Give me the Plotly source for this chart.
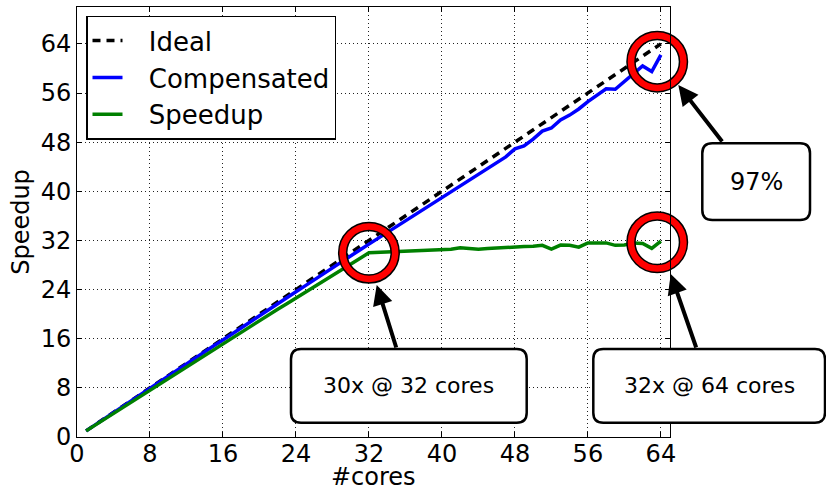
import plotly.graph_objects as go

cores = list(range(1, 65))
ideal = [1, 2, 3, 4, 5, 6, 7, 8, 9, 10, 11, 12, 13, 14, 15, 16,
         17, 18, 19, 20, 21, 22, 23, 24, 25, 26, 27, 28, 29, 30, 31, 32,
         33, 34, 35, 36, 37, 38, 39, 40, 41, 42, 43, 44, 45, 46, 47, 48,
         49, 50, 51, 52, 53, 54, 55, 56, 57, 58, 59, 60, 61, 62, 63, 64]
compensated = [1.0, 2.0, 3.0, 4.0, 5.0, 5.95, 6.95, 7.95, 8.95, 9.9,
               10.9, 11.9, 12.85, 13.85, 14.85, 15.8, 16.8, 17.8, 18.75, 19.75,
               20.7, 21.7, 22.7, 23.65, 24.6, 25.6, 26.55, 27.55, 28.5, 29.45,
               30.45, 31.4, 32.35, 33.3, 34.25, 35.2, 36.15, 37.1, 38.05, 39.0,
               39.9, 40.85, 41.8, 42.7, 43.65, 44.6, 45.6, 46.9, 47.4, 48.5,
               49.8, 50.3, 51.6, 52.4, 53.4, 54.6, 55.6, 56.7, 56.6, 57.9,
               59.2, 60.4, 59.5, 62.2]
speedup = [1.0, 1.95, 2.9, 3.85, 4.8, 5.75, 6.7, 7.65, 8.6, 9.55,
           10.5, 11.4, 12.35, 13.3, 14.25, 15.2, 16.1, 17.05, 18.0, 18.9,
           19.85, 20.8, 21.7, 22.6, 23.55, 24.45, 25.4, 26.3, 27.2, 28.15,
           29.05, 30.0, 30.05, 30.1, 30.15, 30.2, 30.25, 30.3, 30.35, 30.4,
           30.55, 30.8, 30.7, 30.55, 30.7, 30.8, 30.85, 30.95, 31.0, 31.05,
           31.2, 30.6, 31.25, 31.2, 30.9, 31.6, 31.6, 31.6, 31.2, 31.25,
           31.6, 31.5, 30.7, 31.9]

highlight_x = [32, 63.6, 63.6]
highlight_y = [30, 31.7, 61.1]

tick_vals = [0, 8, 16, 24, 32, 40, 48, 56, 64]

W, H = 826, 491
ML, MR, MT, MB = 77, 156, 7, 54
PW, PH = W - ML - MR, H - MT - MB


def px(xp):
    return (xp - ML) / PW


def py(yp):
    return (H - MB - yp) / PH


def rounded_box(x0, y0, x1, y1, r=10):
    X0, X1 = px(x0), px(x1)
    Y0, Y1 = py(y0), py(y1)  # Y0 top, Y1 bottom
    rx, ry = r / PW, r / PH
    return (f"M{X0+rx},{Y0} L{X1-rx},{Y0} Q{X1},{Y0} {X1},{Y0-ry} "
            f"L{X1},{Y1+ry} Q{X1},{Y1} {X1-rx},{Y1} "
            f"L{X0+rx},{Y1} Q{X0},{Y1} {X0},{Y1+ry} "
            f"L{X0},{Y0-ry} Q{X0},{Y0} {X0+rx},{Y0} Z")


pad = "\u2002\u00a0"
fig = go.Figure()
fig.add_trace(go.Scatter(x=cores, y=ideal, mode="lines", name=pad + "Ideal",
                         line=dict(color="black", width=3.5, dash="8px,6px")))
fig.add_trace(go.Scatter(x=cores, y=compensated, mode="lines", name=pad + "Compensated",
                         line=dict(color="#0000ff", width=3.5)))
fig.add_trace(go.Scatter(x=cores, y=speedup, mode="lines", name=pad + "Speedup",
                         line=dict(color="#008000", width=3.5)))
fig.add_trace(go.Scatter(x=highlight_x, y=highlight_y, mode="markers", showlegend=False,
                         cliponaxis=False, hoverinfo="skip",
                         marker=dict(symbol="circle-open", size=52.5, color="black",
                                     line=dict(width=9.5, color="black"))))
fig.add_trace(go.Scatter(x=highlight_x, y=highlight_y, mode="markers", showlegend=False,
                         cliponaxis=False, hoverinfo="skip",
                         marker=dict(symbol="circle-open", size=52.5, color="#ff0000",
                                     line=dict(width=6.5, color="#ff0000"))))

boxes = [
    (291, 349, 526.7, 422.7, "30x @ 32 cores", 22),
    (593.3, 349, 825, 422.7, "32x @ 64 cores", 22),
    (702.3, 143.3, 810, 220, "97%", 24),
]
shapes = []
annotations = []
for (x0, y0, x1, y1, txt, fs) in boxes:
    shapes.append(dict(type="path", xref="paper", yref="paper", path=rounded_box(x0, y0, x1, y1),
                       line=dict(color="black", width=2.5), fillcolor="white", layer="above"))
    annotations.append(dict(xref="paper", yref="paper", x=px((x0 + x1) / 2), y=py((y0 + y1) / 2),
                            text=txt, showarrow=False, xanchor="center", yanchor="middle",
                            font=dict(size=fs, color="black", family="DejaVu Sans")))

arrows = [
    (376.7, 285, 20, 64),
    (670.7, 274, 26, 75),
    (678.3, 85, 45, 58),
]
for (tx, ty, ax, ay) in arrows:
    annotations.append(dict(xref="paper", yref="paper", x=px(tx), y=py(ty), ax=ax, ay=ay,
                            text="", showarrow=True, arrowhead=2, arrowsize=1,
                            arrowwidth=4, arrowcolor="black", standoff=0))

# x-axis title placed as text below the tick labels
annotations.append(dict(xref="paper", yref="paper", x=0.5, y=py(476.5), text="#cores",
                        showarrow=False, xanchor="center", yanchor="middle",
                        font=dict(size=24, color="black", family="DejaVu Sans")))

axis_common = dict(showline=True, linecolor="black", linewidth=1, mirror="allticks",
                   ticks="inside", ticklen=5, tickcolor="black", tickwidth=1,
                   showgrid=True, gridcolor="#222222", gridwidth=1, griddash="1px,3px",
                   zeroline=False, automargin=False,
                   tickfont=dict(size=24, color="black", family="DejaVu Sans"))

fig.update_layout(
    width=W, height=H,
    margin=dict(l=ML, r=MR, t=MT, b=MB, pad=0, autoexpand=False),
    paper_bgcolor="white", plot_bgcolor="white",
    font=dict(family="DejaVu Sans", color="black"),
    xaxis=dict(range=[0, 65], tickvals=tick_vals, ticklabelstandoff=-5,
               **axis_common),
    yaxis=dict(range=[0, 70], tickvals=tick_vals,
               title=dict(text="Speedup", font=dict(size=24, color="black"), standoff=4),
               **axis_common),
    legend=dict(x=px(86), y=py(15.7), xanchor="left", yanchor="top",
                bgcolor="white", bordercolor="black", borderwidth=1.5,
                font=dict(size=26, color="black", family="DejaVu Sans"),
                tracegroupgap=0),
    shapes=shapes,
    annotations=annotations,
    showlegend=True,
)

fig.write_html("out.html", config={"displayModeBar": False},
               post_script="document.body.style.margin='0';document.body.style.overflow='hidden';")
